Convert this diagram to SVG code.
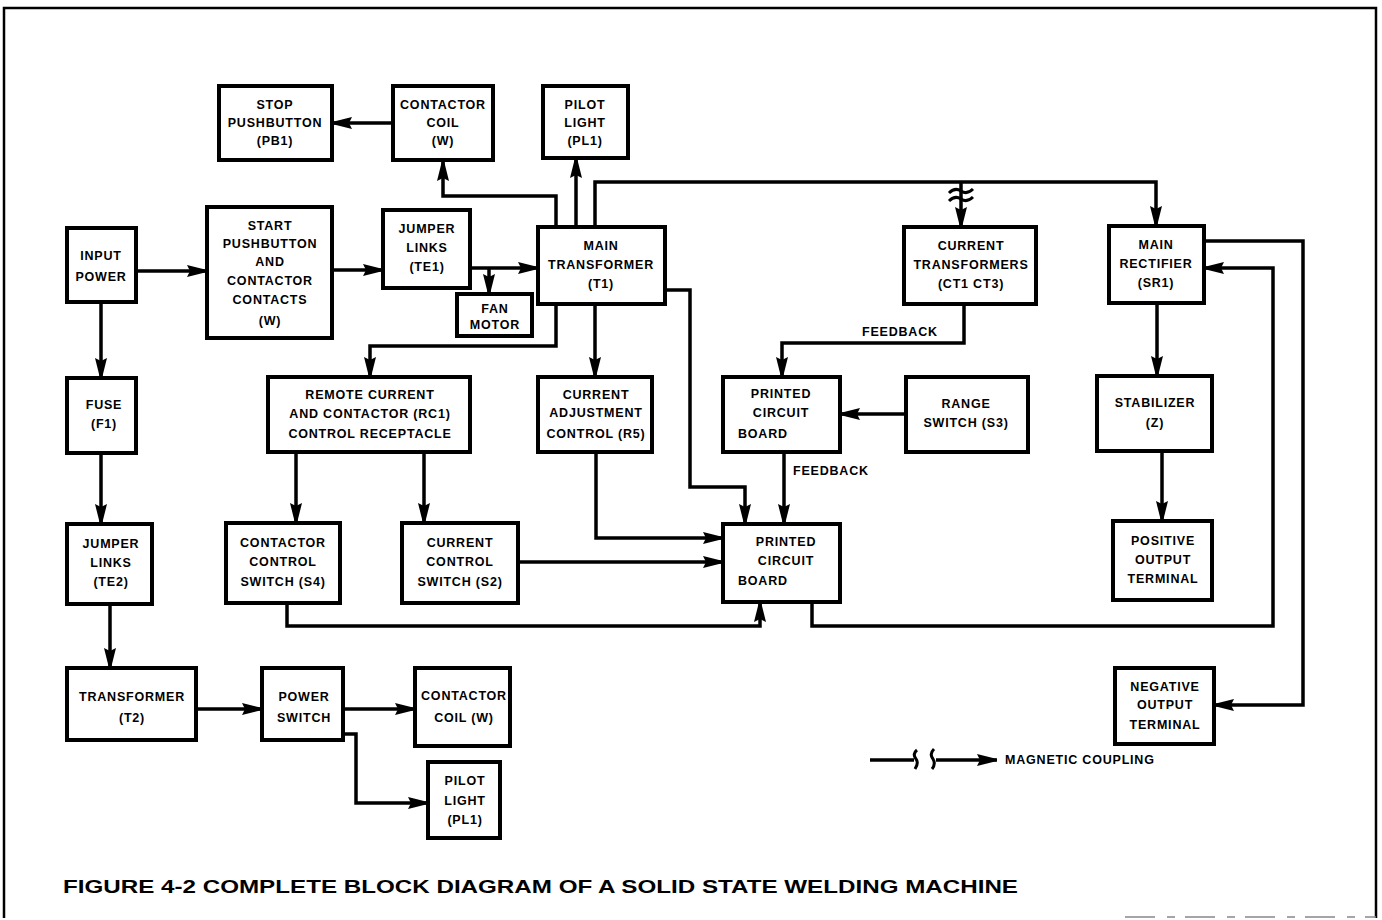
<svg xmlns="http://www.w3.org/2000/svg" width="1382" height="920" viewBox="0 0 1382 920">
<defs>
<marker id="ah" viewBox="0 0 20 12" refX="20" refY="6" markerWidth="20" markerHeight="12" markerUnits="userSpaceOnUse" orient="auto">
<path d="M0,0 L20,5 L20,7 L0,12 L3,6 z" fill="#000"/>
</marker>
<style>
.box{fill:#fff;stroke:#000;stroke-width:4}
.t{font-family:"Liberation Sans",Arial,sans-serif;font-weight:bold;font-size:12.5px;letter-spacing:0.8px;text-anchor:middle;fill:#000}
.tl{font-family:"Liberation Sans",Arial,sans-serif;font-weight:bold;font-size:12.5px;letter-spacing:0.8px;fill:#000}
.c{fill:none;stroke:#000;stroke-width:3.5}
.ca{fill:none;stroke:#000;stroke-width:3.5;marker-end:url(#ah)}
</style>
</defs>
<rect width="1382" height="920" fill="#fff"/>
<path d="M4,918 V8 H1376 V918" fill="none" stroke="#000" stroke-width="2.5"/>
<path d="M1125,917 H1376" fill="none" stroke="#888" stroke-width="1.5" stroke-dasharray="30,12,8,10"/>

<g id="connectors">
<path class="ca" d="M393,123 H332"/>
<path class="ca" d="M556,227 V196 H443 V161"/>
<path class="ca" d="M576,227 V158"/>
<path class="ca" d="M595,227 V182 H1156 V226"/>
<path class="ca" d="M961,182 V227"/>
<path d="M949,193 q6,-6 12,-2 t12,-2 M949,201 q6,-6 12,-2 t12,-2" fill="none" stroke="#000" stroke-width="3"/>
<path class="ca" d="M136,271 H207"/>
<path class="ca" d="M332,270 H383"/>
<path class="ca" d="M470,268 H538"/>
<path class="ca" d="M489,268 V294"/>
<path class="ca" d="M556,304 V346 H370 V377"/>
<path class="ca" d="M595,304 V377"/>
<path class="ca" d="M665,290 H690 V487 H745 V524"/>
<path class="ca" d="M964,304 V343 H782 V377"/>
<path class="ca" d="M906,414 H840"/>
<path class="ca" d="M784,452 V524"/>
<path class="ca" d="M596,452 V538 H723"/>
<path class="ca" d="M518,562 H723"/>
<path class="ca" d="M296,452 V523"/>
<path class="ca" d="M424,452 V523"/>
<path class="ca" d="M287,603 V626 H760 V602"/>
<path class="ca" d="M812,602 V626 H1273 V268 H1204"/>
<path class="ca" d="M1204,241 H1303 V705 H1214"/>
<path class="ca" d="M1157,303 V376"/>
<path class="ca" d="M1162,451 V521"/>
<path class="ca" d="M101,302 V378"/>
<path class="ca" d="M101,453 V524"/>
<path class="ca" d="M110,604 V668"/>
<path class="ca" d="M196,709 H262"/>
<path class="ca" d="M343,709 H415"/>
<path class="ca" d="M343,734 H356 V803 H428"/>
<text class="tl" x="862" y="336">FEEDBACK</text>
<text class="tl" x="793" y="475">FEEDBACK</text>
</g>

<g id="stop-pushbutton"><rect class="box" x="219" y="86" width="113" height="74"/>
<text class="t" x="275" y="109">STOP</text><text class="t" x="275" y="127">PUSHBUTTON</text><text class="t" x="275" y="145">(PB1)</text></g>
<g id="contactor-coil-top"><rect class="box" x="393" y="86" width="100" height="74"/>
<text class="t" x="443" y="109">CONTACTOR</text><text class="t" x="443" y="127">COIL</text><text class="t" x="443" y="145">(W)</text></g>
<g id="pilot-light-top"><rect class="box" x="543" y="86" width="85" height="72"/>
<text class="t" x="585" y="109">PILOT</text><text class="t" x="585" y="127">LIGHT</text><text class="t" x="585" y="145">(PL1)</text></g>
<g id="input-power"><rect class="box" x="67" y="228" width="69" height="74"/>
<text class="t" x="101" y="260">INPUT</text><text class="t" x="101" y="281">POWER</text></g>
<g id="start-pushbutton"><rect class="box" x="207" y="207" width="125" height="131"/>
<text class="t" x="270" y="230">START</text><text class="t" x="270" y="248">PUSHBUTTON</text><text class="t" x="270" y="266">AND</text><text class="t" x="270" y="285">CONTACTOR</text><text class="t" x="270" y="304">CONTACTS</text><text class="t" x="270" y="325">(W)</text></g>
<g id="jumper-links-te1"><rect class="box" x="383" y="210" width="87" height="78"/>
<text class="t" x="427" y="233">JUMPER</text><text class="t" x="427" y="252">LINKS</text><text class="t" x="427" y="271">(TE1)</text></g>
<g id="fan-motor"><rect class="box" x="457" y="294" width="75" height="42"/>
<text class="t" x="495" y="313">FAN</text><text class="t" x="495" y="329">MOTOR</text></g>
<g id="main-transformer"><rect class="box" x="538" y="227" width="127" height="77"/>
<text class="t" x="601" y="250">MAIN</text><text class="t" x="601" y="269">TRANSFORMER</text><text class="t" x="601" y="288">(T1)</text></g>
<g id="current-transformers"><rect class="box" x="904" y="227" width="132" height="77"/>
<text class="t" x="971" y="250">CURRENT</text><text class="t" x="971" y="269">TRANSFORMERS</text><text class="t" x="971" y="288">(CT1  CT3)</text></g>
<g id="main-rectifier"><rect class="box" x="1109" y="226" width="95" height="77"/>
<text class="t" x="1156" y="249">MAIN</text><text class="t" x="1156" y="268">RECTIFIER</text><text class="t" x="1156" y="287">(SR1)</text></g>
<g id="fuse"><rect class="box" x="67" y="378" width="69" height="75"/>
<text class="t" x="104" y="409">FUSE</text><text class="t" x="104" y="428">(F1)</text></g>
<g id="remote-current"><rect class="box" x="268" y="377" width="202" height="75"/>
<text class="t" x="370" y="399">REMOTE CURRENT</text><text class="t" x="370" y="418">AND CONTACTOR (RC1)</text><text class="t" x="370" y="438">CONTROL RECEPTACLE</text></g>
<g id="current-adjustment"><rect class="box" x="538" y="377" width="114" height="75"/>
<text class="t" x="596" y="399">CURRENT</text><text class="t" x="596" y="417">ADJUSTMENT</text><text class="t" x="596" y="438">CONTROL (R5)</text></g>
<g id="pcb-upper"><rect class="box" x="723" y="377" width="117" height="75"/>
<text class="t" x="781" y="398">PRINTED</text><text class="t" x="781" y="417">CIRCUIT</text><text class="tl" x="738" y="438">BOARD</text></g>
<g id="range-switch"><rect class="box" x="906" y="377" width="122" height="75"/>
<text class="t" x="966" y="408">RANGE</text><text class="t" x="966" y="427">SWITCH (S3)</text></g>
<g id="stabilizer"><rect class="box" x="1097" y="376" width="115" height="75"/>
<text class="t" x="1155" y="407">STABILIZER</text><text class="t" x="1155" y="427">(Z)</text></g>
<g id="jumper-links-te2"><rect class="box" x="67" y="524" width="85" height="80"/>
<text class="t" x="111" y="548">JUMPER</text><text class="t" x="111" y="567">LINKS</text><text class="t" x="111" y="586">(TE2)</text></g>
<g id="contactor-control-switch"><rect class="box" x="226" y="523" width="114" height="80"/>
<text class="t" x="283" y="547">CONTACTOR</text><text class="t" x="283" y="566">CONTROL</text><text class="t" x="283" y="586">SWITCH (S4)</text></g>
<g id="current-control-switch"><rect class="box" x="402" y="523" width="116" height="80"/>
<text class="t" x="460" y="547">CURRENT</text><text class="t" x="460" y="566">CONTROL</text><text class="t" x="460" y="586">SWITCH (S2)</text></g>
<g id="pcb-lower"><rect class="box" x="723" y="524" width="117" height="78"/>
<text class="t" x="786" y="546">PRINTED</text><text class="t" x="786" y="565">CIRCUIT</text><text class="tl" x="738" y="585">BOARD</text></g>
<g id="positive-output"><rect class="box" x="1113" y="521" width="99" height="79"/>
<text class="t" x="1163" y="545">POSITIVE</text><text class="t" x="1163" y="564">OUTPUT</text><text class="t" x="1163" y="583">TERMINAL</text></g>
<g id="negative-output"><rect class="box" x="1115" y="668" width="99" height="76"/>
<text class="t" x="1165" y="691">NEGATIVE</text><text class="t" x="1165" y="709">OUTPUT</text><text class="t" x="1165" y="729">TERMINAL</text></g>
<g id="transformer-t2"><rect class="box" x="67" y="668" width="129" height="72"/>
<text class="t" x="132" y="701">TRANSFORMER</text><text class="t" x="132" y="722">(T2)</text></g>
<g id="power-switch"><rect class="box" x="262" y="668" width="81" height="72"/>
<text class="t" x="304" y="701">POWER</text><text class="t" x="304" y="722">SWITCH</text></g>
<g id="contactor-coil-bottom"><rect class="box" x="415" y="668" width="95" height="78"/>
<text class="t" x="464" y="700">CONTACTOR</text><text class="t" x="464" y="722">COIL (W)</text></g>
<g id="pilot-light-bottom"><rect class="box" x="428" y="762" width="72" height="76"/>
<text class="t" x="465" y="785">PILOT</text><text class="t" x="465" y="805">LIGHT</text><text class="t" x="465" y="824">(PL1)</text></g>

<g id="legend">
<path class="c" d="M870,760 H914"/>
<path class="ca" d="M936,760 H997"/>
<path d="M917,750 q-5,4 -1,9 q3,4 -1,10 M934,749 q-5,5 -1,10 q3,5 -1,10" fill="none" stroke="#000" stroke-width="3"/>
<text class="tl" x="1005" y="764" letter-spacing="0.3">MAGNETIC COUPLING</text>
</g>

<text x="63" y="893" font-family="Liberation Sans, Arial, sans-serif" font-weight="bold" font-size="19" textLength="955" lengthAdjust="spacingAndGlyphs">FIGURE 4-2 COMPLETE BLOCK DIAGRAM OF A SOLID STATE WELDING MACHINE</text>
</svg>
